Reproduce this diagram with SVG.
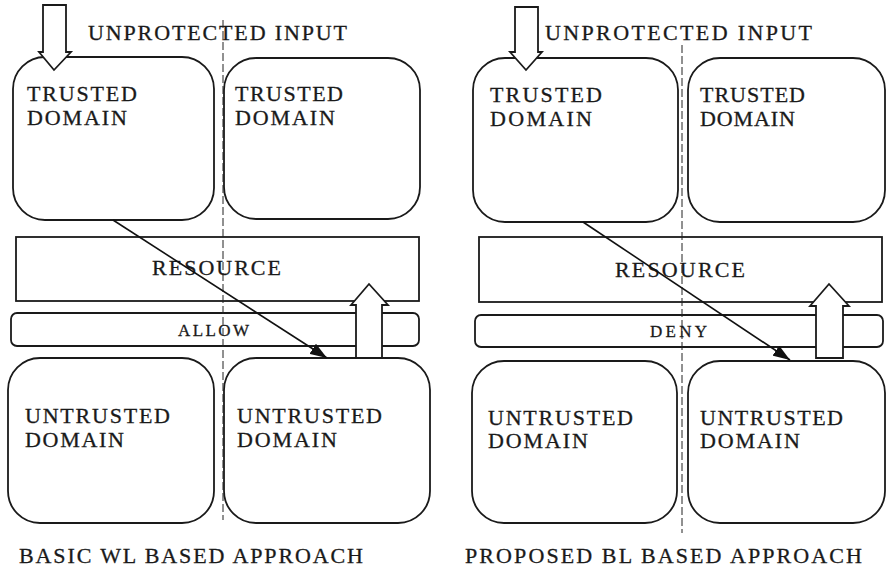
<svg xmlns="http://www.w3.org/2000/svg" width="887" height="570" viewBox="0 0 887 570">
<defs>
<marker id="ah" markerUnits="userSpaceOnUse" markerWidth="18" markerHeight="12" refX="17" refY="6" orient="auto">
<path d="M0,0 L17,6 L0,12 Z" fill="#111"/>
</marker>
<style>
.box{fill:none;stroke:#1a1a1a;stroke-width:1.8}
.bar{fill:none;stroke:#1a1a1a;stroke-width:1.8}
.blk{fill:#fff;stroke:#1a1a1a;stroke-width:1.8;stroke-linejoin:miter}
.dash{stroke:#222;stroke-width:1;stroke-dasharray:8,3;fill:none}
.con{stroke:#111;stroke-width:1.6;fill:none}
text{font-family:"Liberation Serif","Times New Roman",serif;fill:#1a1a1a;stroke:#1a1a1a;stroke-width:0.3}
.t{font-size:22px}
.s{font-size:17px}
</style>
</defs>
<g id="left-panel">
<g id="L-trusted-1"><rect class="box" x="13" y="57" width="201" height="163" rx="32"/>
<text class="t" x="27" y="101" textLength="110" lengthAdjust="spacing">TRUSTED</text>
<text class="t" x="27" y="125" textLength="100" lengthAdjust="spacing">DOMAIN</text></g>
<g id="L-trusted-2"><rect class="box" x="224" y="58" width="196" height="161" rx="32"/>
<text class="t" x="235" y="101" textLength="108" lengthAdjust="spacing">TRUSTED</text>
<text class="t" x="235" y="125" textLength="100" lengthAdjust="spacing">DOMAIN</text></g>
<g id="L-resource"><rect class="bar" x="16" y="237" width="403" height="64"/>
<text class="t" x="152" y="275" textLength="129" lengthAdjust="spacing">RESOURCE</text></g>
<g id="L-allow"><rect class="bar" x="11" y="313" width="408" height="33" rx="6"/>
<text class="s" x="178" y="336" textLength="71" lengthAdjust="spacing">ALLOW</text></g>
<g id="L-untrusted-1"><rect class="box" x="8" y="358" width="206" height="165" rx="32"/>
<text class="t" x="25" y="423" textLength="145" lengthAdjust="spacing">UNTRUSTED</text>
<text class="t" x="25" y="447" textLength="99" lengthAdjust="spacing">DOMAIN</text></g>
<g id="L-untrusted-2"><rect class="box" x="224" y="358" width="206" height="165" rx="32"/>
<text class="t" x="237" y="423" textLength="145" lengthAdjust="spacing">UNTRUSTED</text>
<text class="t" x="237" y="447" textLength="100" lengthAdjust="spacing">DOMAIN</text></g>
<g id="L-input-label"><text class="t" x="88" y="40" textLength="259" lengthAdjust="spacing">UNPROTECTED INPUT</text></g>
<g id="L-caption"><text class="t" x="19" y="563" textLength="344" lengthAdjust="spacing">BASIC WL BASED APPROACH</text></g>
</g>
<g id="right-panel">
<g id="R-trusted-1"><rect class="box" x="473" y="58" width="205" height="164" rx="32"/>
<text class="t" x="490" y="102" textLength="112" lengthAdjust="spacing">TRUSTED</text>
<text class="t" x="490" y="126" textLength="102" lengthAdjust="spacing">DOMAIN</text></g>
<g id="R-trusted-2"><rect class="box" x="688" y="58" width="197" height="164" rx="32"/>
<text class="t" x="700" y="102" textLength="105" lengthAdjust="spacing">TRUSTED</text>
<text class="t" x="700" y="126" textLength="95" lengthAdjust="spacing">DOMAIN</text></g>
<g id="R-resource"><rect class="bar" x="479" y="237" width="403" height="65"/>
<text class="t" x="615" y="277" textLength="130" lengthAdjust="spacing">RESOURCE</text></g>
<g id="R-deny"><rect class="bar" x="475" y="315" width="408" height="32" rx="6"/>
<text class="s" x="650" y="337" textLength="57" lengthAdjust="spacing">DENY</text></g>
<g id="R-untrusted-1"><rect class="box" x="472" y="361" width="205" height="162" rx="32"/>
<text class="t" x="488" y="425" textLength="145" lengthAdjust="spacing">UNTRUSTED</text>
<text class="t" x="488" y="448" textLength="100" lengthAdjust="spacing">DOMAIN</text></g>
<g id="R-untrusted-2"><rect class="box" x="688" y="361" width="197" height="162" rx="32"/>
<text class="t" x="700" y="425" textLength="143" lengthAdjust="spacing">UNTRUSTED</text>
<text class="t" x="700" y="448" textLength="100" lengthAdjust="spacing">DOMAIN</text></g>
<g id="R-input-label"><text class="t" x="545" y="40" textLength="267" lengthAdjust="spacing">UNPROTECTED INPUT</text></g>
<g id="R-caption"><text class="t" x="465" y="563" textLength="397" lengthAdjust="spacing">PROPOSED BL BASED APPROACH</text></g>
</g>
<g id="connectors">
<line class="dash" x1="223" y1="20" x2="223" y2="520"/>
<line class="dash" x1="682" y1="45" x2="682" y2="533"/>
<line class="con" x1="113" y1="220" x2="327" y2="358" marker-end="url(#ah)"/>
<line class="con" x1="583" y1="222" x2="790" y2="360" marker-end="url(#ah)"/>
<polygon class="blk" points="43,5 66,5 66,52 71,52 54,70 39,52 43,52"/>
<polygon class="blk" points="515,7 538,7 538,52 542,52 526,70 510,52 515,52"/>
<polygon class="blk" points="356,358 356,305 351,305 369,284 388,305 382,305 382,358"/>
<polygon class="blk" points="816,358 816,306 810,306 829,284 849,306 843,306 843,358"/>
</g>
</svg>
